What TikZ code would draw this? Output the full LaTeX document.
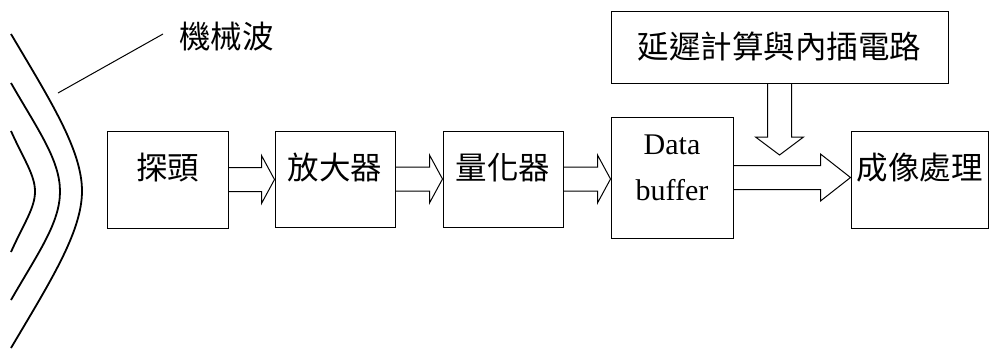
\documentclass[tikz,border=0pt]{standalone}
\usepackage{fontspec}
\setmainfont{Liberation Serif}
\newfontfamily\cjkfont{Noto Sans CJK TC}
\usetikzlibrary{calc}
\newcommand\blockarrow[4]{%
  \draw[barrow] ($(#1.east)+(0,-12)$) -- ($(#2.west|-#1.east)+(-#3,-12)$)
    -- ($(#2.west|-#1.east)+(-#3,-#4)$) -- (#2.west|-#1.east)
    -- ($(#2.west|-#1.east)+(-#3,#4)$) -- ($(#2.west|-#1.east)+(-#3,12)$)
    -- ($(#1.east)+(0,12)$);}
\begin{document}
\begin{tikzpicture}[x=1pt,y=-1pt,
  box/.style={draw, line width=1pt, inner sep=0pt},
  cjk/.style={font=\cjkfont\fontsize{31.5pt}{36pt}\selectfont},
  lowtext/.style={text height=22pt, text depth=22pt},
  serifbig/.style={font=\fontsize{30pt}{36pt}\selectfont, anchor=base, inner sep=0pt},
  wave/.style={line width=1.8pt},
  barrow/.style={draw, line width=1pt, line join=miter}]
\useasboundingbox (0,0) rectangle (992,349);

\node[box, cjk, lowtext, minimum width=121pt, minimum height=97pt] (probe) at (167.5,179.5) {探頭};
\node[box, cjk, lowtext, minimum width=120pt, minimum height=96pt] (amp) at (335,179) {放大器};
\node[box, cjk, lowtext, minimum width=120pt, minimum height=96pt] (quant) at (503,179) {量化器};
\node[box, minimum width=122pt, minimum height=121pt] (buf) at (672,177.5) {};
\node[serifbig] (bufa) at (672,154) {Data};
\node[serifbig] (bufb) at (672,200) {buffer};
\node[box, cjk, lowtext, minimum width=137pt, minimum height=97pt] (img) at (919.5,179.5) {成像處理};
\node[box, cjk, minimum width=337pt, minimum height=72pt] (delay) at (779.5,47) {延遲計算與內插電路};

\blockarrow{probe}{amp}{13}{24}
\blockarrow{amp}{quant}{13}{24}
\blockarrow{quant}{buf}{13}{24}
\blockarrow{buf}{img}{30}{23.5}

\coordinate (dtip) at (779.5,155);
\draw[barrow] ($(delay.south)+(-12,0)$) -- ($(dtip)+(-12,-18)$) -- ($(dtip)+(-24,-18)$)
  -- (dtip) -- ($(dtip)+(24,-18)$) -- ($(dtip)+(12,-18)$) -- ($(delay.south)+(12,0)$);

\draw[wave] (11,34) .. controls (50,100) and (82,150) .. (82,191) .. controls (82,232) and (50,282) .. (11,348);
\draw[wave] (11,83) .. controls (38,130) and (60,160) .. (60,191.5) .. controls (60,223) and (38,253) .. (11,300);
\draw[wave] (11,131) .. controls (24,160) and (35,175) .. (35,191.5) .. controls (35,208) and (24,223) .. (11,252);

\node[cjk, anchor=west, inner sep=0pt] (wlabel) at (179,37) {機械波};
\coordinate (wpt) at (58,93);
\draw[line width=1pt] (wpt) -- ($(wlabel.west)+(-16,-3)$);
\end{tikzpicture}
\end{document}
